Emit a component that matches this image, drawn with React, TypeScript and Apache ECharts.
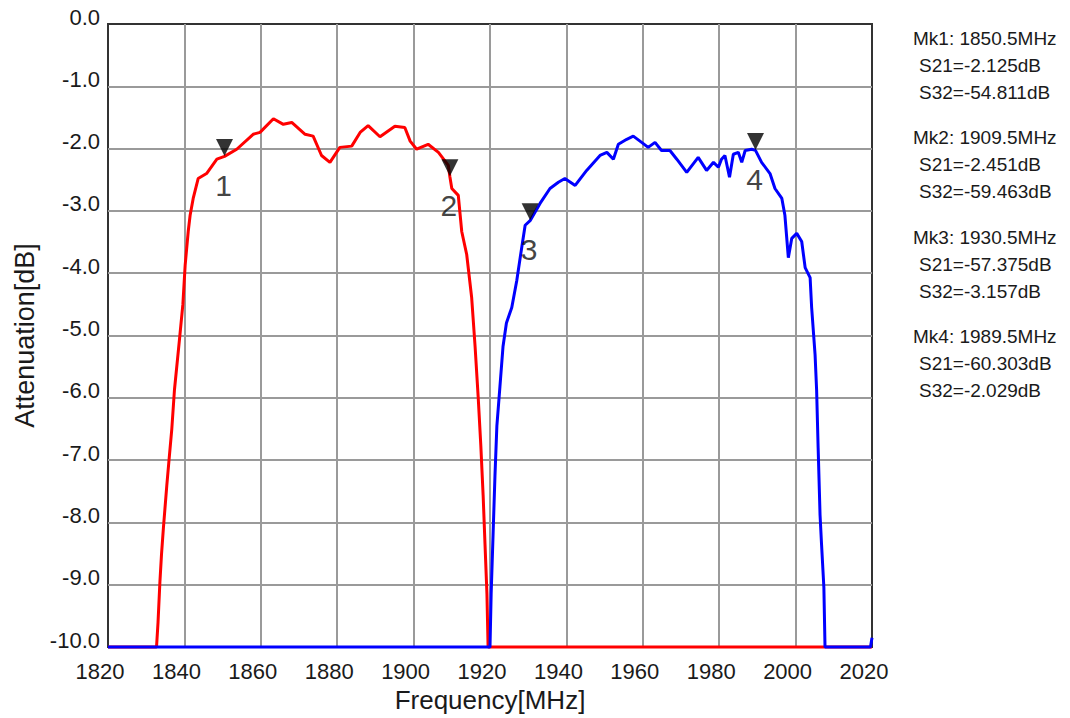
import React, { useEffect, useRef } from 'react';
import * as echarts from 'echarts';

// S21 (red) trace, frequency in MHz and attenuation in dB
const s21Freq = [1820, 1832.7, 1833.1, 1833.6, 1834.0, 1834.5, 1835.4, 1836.0, 1836.7, 1837.4, 1838.7, 1839.6, 1840.2, 1841.0, 1841.5, 1842.3, 1843.6, 1845.8, 1848.5, 1850.5, 1853.7, 1858.0, 1859.8, 1863.3, 1865.9, 1868.1, 1871.6, 1873.7, 1875.9, 1878.1, 1880.7, 1883.8, 1886.0, 1888.1, 1891.2, 1895.1, 1897.7, 1899.1, 1900.8, 1903.8, 1906.5, 1909.1, 1909.5, 1910.0, 1911.7, 1912.6, 1913.9, 1915.2, 1916.1, 1916.9, 1917.6, 1918.2, 1918.7, 1919.2, 1919.5, 1920, 2020];
const s21Db = [-10, -10, -9.6, -8.94, -8.52, -8.09, -7.4, -6.98, -6.5, -5.87, -5.07, -4.5, -3.87, -3.33, -3.07, -2.8, -2.48, -2.40, -2.17, -2.125, -2.01, -1.77, -1.74, -1.52, -1.61, -1.58, -1.77, -1.80, -2.11, -2.22, -1.98, -1.96, -1.74, -1.63, -1.81, -1.64, -1.66, -1.88, -2.01, -1.93, -2.06, -2.27, -2.451, -2.64, -2.75, -3.33, -3.70, -4.39, -5.18, -5.98, -6.77, -7.56, -8.36, -9.15, -10, -10, -10];

// S32 (blue) trace
const s32Freq = [1820, 1920.0, 1920.3, 1920.8, 1921.3, 1921.8, 1922.6, 1923.4, 1924.3, 1925.7, 1927.0, 1927.9, 1929.2, 1930.5, 1933.1, 1935.7, 1937.9, 1939.6, 1942.3, 1945.3, 1948.8, 1950.6, 1952.3, 1953.6, 1955.8, 1957.5, 1959.7, 1961.4, 1963.2, 1964.9, 1967.1, 1968.9, 1971.5, 1974.5, 1976.7, 1978.5, 1979.8, 1980.6, 1981.5, 1982.7, 1983.7, 1985.0, 1985.9, 1986.8, 1988.5, 1989.5, 1991.1, 1993.3, 1994.6, 1996.4, 1997.2, 1998.1, 1999.0, 2000.3, 2001.6, 2002.5, 2003.8, 2004.2, 2005.1, 2005.5, 2005.9, 2006.4, 2006.8, 2007.4, 2007.7, 2019.6, 2020];
const s32Db = [-10, -10, -9.15, -8.2, -7.25, -6.45, -5.82, -5.18, -4.8, -4.55, -4.12, -3.75, -3.23, -3.157, -2.88, -2.64, -2.54, -2.48, -2.59, -2.35, -2.11, -2.06, -2.17, -1.93, -1.85, -1.80, -1.90, -1.98, -1.90, -2.03, -2.03, -2.17, -2.38, -2.14, -2.35, -2.22, -2.30, -2.17, -2.11, -2.46, -2.09, -2.06, -2.22, -2.03, -2.01, -2.029, -2.22, -2.40, -2.64, -2.80, -3.07, -3.75, -3.44, -3.36, -3.49, -3.91, -4.07, -4.55, -5.31, -5.87, -6.80, -7.88, -8.36, -9.04, -10, -10, -9.85];

// Markers
const markerFreq = [1850.5, 1909.5, 1930.5, 1989.5];
const markerS21 = [-2.125, -2.451, -57.375, -60.303];
const markerS32 = [-54.811, -59.463, -3.157, -2.029];

const xMin = 1820;
const xMax = 2020;
const xStep = 20;
const yMin = -10;
const yMax = 0;
const yStep = 1;

const FONT = '"Liberation Sans", Arial, Helvetica, sans-serif';

export default function App() {
  const ref = useRef<HTMLDivElement>(null);

  useEffect(() => {
    document.body.style.margin = '0';
    if (!ref.current) return;
    const chart = echarts.init(ref.current, undefined, { renderer: 'svg' });

    const redData = s21Freq.map((f, i) => [f, s21Db[i]]);
    const blueData = s32Freq.map((f, i) => [f, s32Db[i]]);
    const markerData = markerFreq.map((f, i) => [f, Math.max(markerS21[i], markerS32[i])]);

    const infoText: any[] = [];
    markerFreq.forEach((f, i) => {
      const baseY = 38 + i * 99.5;
      const lines = [
        { t: `Mk${i + 1}: ${f.toFixed(1)}MHz`, x: 913 },
        { t: `S21=${markerS21[i].toFixed(3)}dB`, x: 919 },
        { t: `S32=${markerS32[i].toFixed(3)}dB`, x: 919 },
      ];
      lines.forEach((ln, j) => {
        infoText.push({
          type: 'text',
          x: ln.x,
          y: baseY + j * 27,
          style: {
            text: ln.t,
            font: `19px ${FONT}`,
            fill: '#1a1a1a',
            verticalAlign: 'middle',
            align: 'left',
          },
        });
      });
    });

    const option: any = {
      animation: false,
      backgroundColor: '#ffffff',
      textStyle: { fontFamily: FONT },
      grid: {
        left: 108,
        top: 24,
        right: 198,
        bottom: 65,
        show: true,
        borderColor: '#333',
        borderWidth: 2,
        backgroundColor: 'transparent',
      },
      xAxis: {
        type: 'value',
        min: xMin,
        max: xMax,
        interval: xStep,
        name: 'Frequency[MHz]',
        nameLocation: 'middle',
        nameGap: 34,
        nameTextStyle: { fontSize: 26, color: '#1a1a1a', fontFamily: FONT },
        axisLine: { show: false },
        axisTick: { show: false },
        axisLabel: {
          fontSize: 22,
          color: '#1a1a1a',
          margin: 13,
          padding: [0, 16, 0, 0],
          fontFamily: FONT,
          formatter: (v: number) => String(v),
        },
        splitLine: {
          show: true,
          showMinLine: false,
          showMaxLine: false,
          lineStyle: { color: '#9a9a9a', width: 2 },
        },
      },
      yAxis: {
        type: 'value',
        min: yMin,
        max: yMax,
        interval: yStep,
        name: 'Attenuation[dB]',
        nameLocation: 'middle',
        nameGap: 70,
        nameTextStyle: { fontSize: 27, color: '#1a1a1a', fontFamily: FONT },
        axisLine: { show: false },
        axisTick: { show: false },
        axisLabel: {
          fontSize: 22,
          color: '#1a1a1a',
          margin: 8,
          verticalAlign: 'bottom',
          lineHeight: 14,
          fontFamily: FONT,
          formatter: (v: number) => v.toFixed(1),
        },
        splitLine: {
          show: true,
          showMinLine: false,
          showMaxLine: false,
          lineStyle: { color: '#9a9a9a', width: 2 },
        },
      },
      graphic: infoText,
      series: [
        {
          name: 'S21',
          type: 'line',
          data: redData,
          symbol: 'none',
          clip: false,
          lineStyle: { color: '#ff0000', width: 3 },
          z: 3,
        },
        {
          name: 'S32',
          type: 'line',
          data: blueData,
          symbol: 'none',
          clip: false,
          lineStyle: { color: '#0000ff', width: 3 },
          z: 4,
        },
        {
          name: 'markers',
          type: 'scatter',
          data: markerData,
          symbol: 'triangle',
          symbolRotate: 180,
          symbolSize: [17, 17],
          symbolOffset: [0, -9],
          itemStyle: { color: '#000' },
          z: 6,
        },
        {
          name: 'markerNums',
          type: 'scatter',
          data: markerData,
          symbolSize: 1,
          itemStyle: { color: 'rgba(0,0,0,0)' },
          label: {
            show: true,
            position: 'inside',
            offset: [-1, 29],
            fontSize: 30,
            color: '#111',
            fontFamily: FONT,
            formatter: (p: any) => String(p.dataIndex + 1),
          },
          z: 6,
        },
      ],
    };

    chart.setOption(option);
    return () => chart.dispose();
  }, []);

  return <div ref={ref} style={{ width: 1070, height: 718 }} />;
}
